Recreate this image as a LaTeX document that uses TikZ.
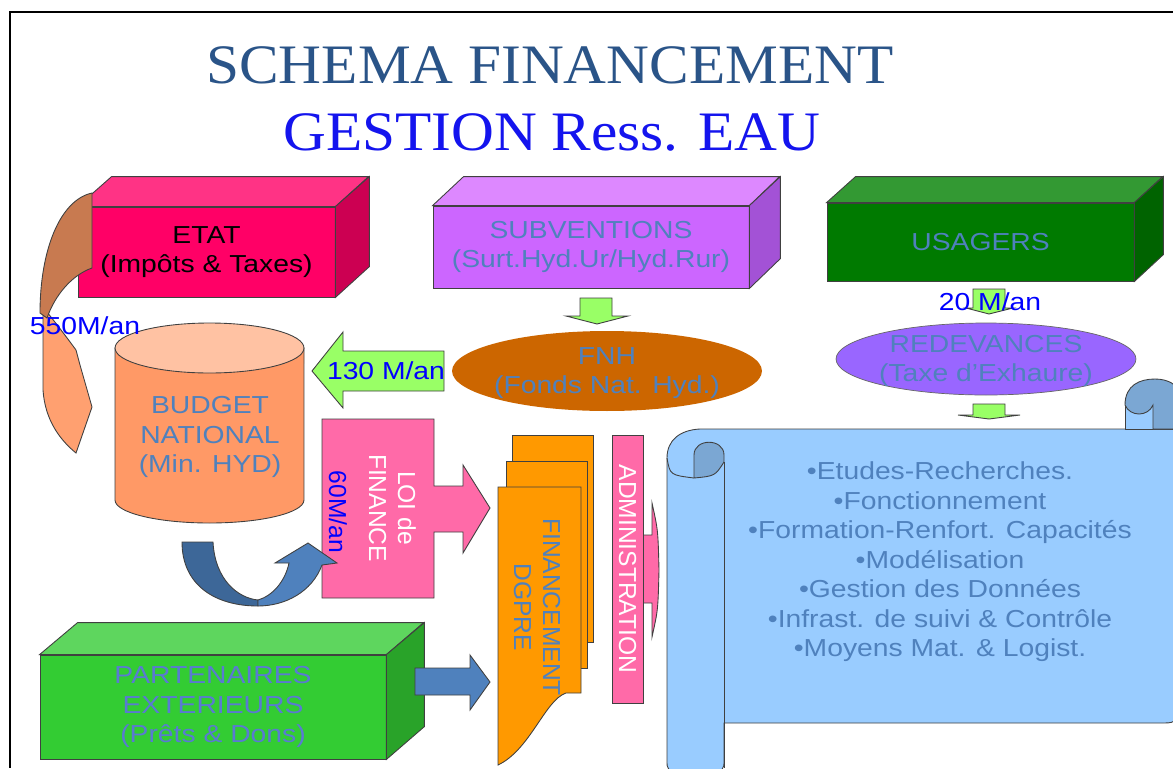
\documentclass[tikz,border=0pt]{standalone}
\usepackage{fontspec}
\setmainfont{Liberation Sans}[FakeStretch=1.15]
\newfontfamily\vertfont{Liberation Sans}
\newfontfamily\titrefont{Liberation Serif}[FakeStretch=1.065]
\usetikzlibrary{shapes}
\usetikzlibrary{backgrounds}

\definecolor{etatA}{HTML}{FF0066}
\definecolor{etatB}{HTML}{FF3385}
\definecolor{etatC}{HTML}{CC0052}
\definecolor{subvA}{HTML}{CC66FF}
\definecolor{subvB}{HTML}{DD88FF}
\definecolor{subvC}{HTML}{A352D6}
\definecolor{usagA}{HTML}{007A00}
\definecolor{usagB}{HTML}{339933}
\definecolor{usagC}{HTML}{006300}
\definecolor{partA}{HTML}{33CC33}
\definecolor{partB}{HTML}{5ED65E}
\definecolor{partC}{HTML}{29A329}
\definecolor{texteau}{HTML}{4F81BD}
\definecolor{partxt}{HTML}{5A7AD2}
\definecolor{vert}{HTML}{99FF66}
\definecolor{fnh}{HTML}{CC6600}
\definecolor{redev}{HTML}{9966FF}
\definecolor{budgA}{HTML}{FF9966}
\definecolor{budgB}{HTML}{FFC2A3}
\definecolor{rose}{HTML}{FF6AA8}
\definecolor{docs}{HTML}{FF9900}
\definecolor{rouleau}{HTML}{99CCFF}
\definecolor{rouleauB}{HTML}{7BA7D3}
\definecolor{bleuA}{HTML}{4F81BD}
\definecolor{bleuB}{HTML}{3D6798}
\definecolor{brun}{HTML}{C87A50}
\definecolor{peche}{HTML}{FFA070}
\definecolor{titreA}{HTML}{2A5488}
\definecolor{titreB}{HTML}{1414EE}

\tikzset{
  face/.style={draw=black!75, line width=0.5pt},
  boite/.style={face, inner sep=0pt, font=\fontsize{14}{16.7}\selectfont, align=center, text=texteau},
  txt/.style={font=\fontsize{14}{16.7}\selectfont, align=center, text=texteau},
  fleche/.style={draw=black!75, line width=0.5pt},
  montant/.style={font=\fontsize{14}{16}\selectfont, text=blue},
  vtxt/.style={font=\vertfont\fontsize{14}{16.5}\selectfont, align=center, rotate=-90},
}

\begin{document}
\begin{tikzpicture}[x=0.02cm,y=-0.02cm]
\useasboundingbox (0,0) rectangle (1173,768);
\fill[white] (0,0) rectangle (1173,768);
\draw[line width=1.1pt] (1173,12) -- (10,12) -- (10,768);

\node[font=\titrefont\fontsize{31.7}{36}\selectfont, text=titreA, anchor=base] (titre) at (550,83) {SCHEMA FINANCEMENT};
\node[font=\titrefont\fontsize{31.7}{36}\selectfont, text=titreB, anchor=base] (soustitre) at (552,150) {GESTION Ress. EAU};

\node[boite, fill=etatA, text=black, minimum width=5.14cm, minimum height=1.8cm] (etat) at (206.5,252) {ETAT\\(Impôts \& Taxes)};
\filldraw[face, fill=etatB] (etat.north west) -- ++(34,-30) -- ++(257,0) -- (etat.north east) -- cycle;
\filldraw[face, fill=etatC] (etat.north east) -- ++(34,-30) -- ++(0,90) -- (etat.south east) -- cycle;

\node[boite, fill=subvA, minimum width=6.32cm, minimum height=1.64cm] (subv) at (591,247) {SUBVENTIONS\\(Surt.Hyd.Ur/Hyd.Rur)};
\filldraw[face, fill=subvB] (subv.north west) -- ++(31,-29) -- ++(316,0) -- (subv.north east) -- cycle;
\filldraw[face, fill=subvC] (subv.north east) -- ++(31,-29) -- ++(0,82) -- (subv.south east) -- cycle;

\node[boite, fill=usagA, minimum width=6.14cm, minimum height=1.56cm] (usag) at (980.5,242) {USAGERS};
\filldraw[face, fill=usagB] (usag.north west) -- ++(29,-26) -- ++(307,0) -- (usag.north east) -- cycle;
\filldraw[face, fill=usagC] (usag.north east) -- ++(29,-26) -- ++(0,78) -- (usag.south east) -- cycle;

\node[boite, fill=partA, text=partxt, minimum width=6.92cm, minimum height=2.08cm] (part) at (213,707) {PARTENAIRES\\EXTERIEURS\\(Prêts \& Dons)};
\filldraw[face, fill=partB] (part.north west) -- ++(38,-32) -- ++(346,0) -- (part.north east) -- cycle;
\filldraw[face, fill=partC] (part.north east) -- ++(38,-32) -- ++(0,104) -- (part.south east) -- cycle;

\fill[fnh] (607,371) ellipse [x radius=3.1cm, y radius=0.8cm];
\node[txt] (fnhtxt) at (607,373) {FNH\\(Fonds Nat. Hyd.)};
\filldraw[fill=redev, draw=black!60] (986,359) ellipse [x radius=3cm, y radius=0.72cm];
\node[txt] (redevtxt) at (986,361) {REDEVANCES\\(Taxe d’Exhaure)};

\filldraw[face, fill=budgA] (115,348) -- (115,500) arc[start angle=180, end angle=360, x radius=1.89cm, y radius=0.46cm] -- (304,348) -- cycle;
\filldraw[face, fill=budgB] (209.5,348) ellipse [x radius=1.89cm, y radius=0.5cm];
\node[txt] (budget) at (210,437) {BUDGET\\NATIONAL\\(Min. HYD)};

\filldraw[fleche, fill=vert] (580,298) -- (612,298) -- (612,316) -- (628,316) -- (597,324) -- (566,316) -- (580,316) -- cycle;
\filldraw[fleche, fill=vert] (444,351) -- (343,351) -- (343,332) -- (312,371) -- (343,408) -- (343,391) -- (444,391) -- cycle;
\filldraw[fleche, fill=vert] (973,289) -- (1005,289) -- (1005,308) -- (1013,308) -- (989,314) -- (966,308) -- (973,308) -- cycle;
\filldraw[fleche, fill=vert] (973,404) -- (1005,404) -- (1005,415) -- (1020,415) -- (989,419) -- (958,415) -- (973,415) -- cycle;

\filldraw[fleche, fill=peche] (43,310) -- (43,390) .. controls (45,420) and (60,440) .. (76,453) -- (92,407) -- (80,365) -- (76,350) .. controls (65,335) and (55,322) .. (47,312) -- cycle;
\filldraw[fleche, fill=brun] (92,193) .. controls (60,200) and (40,250) .. (40,313) -- (47,318) .. controls (55,295) and (72,275) .. (92,268) -- cycle;

\filldraw[fleche, fill=rose] (322,419) -- (434,419) -- (434,486) -- (463,486) -- (463,465) -- (490,508) -- (463,553) -- (463,532) -- (434,532) -- (434,598) -- (322,598) -- cycle;
\node[vtxt, text=white] (loi) at (392.5,508) {LOI de\\FINANCE};

\filldraw[fleche, fill=bleuB] (182,542) -- (213,542) .. controls (215,580) and (238,598) .. (258,600) -- (258,606) .. controls (215,606) and (182,585) .. (182,542) -- cycle;
\filldraw[fleche, fill=bleuA] (258,600) .. controls (272,596) and (285,582) .. (289,563) -- (275,563) -- (308,543) -- (337,563) -- (322,565) .. controls (312,592) and (285,606) .. (258,606) -- cycle;
\node[montant, font=\vertfont\fontsize{14}{16}\selectfont, rotate=-90] (m60) at (338,512) {60M/an};

\filldraw[fleche, fill=bleuA] (415,668) -- (470,668) -- (470,655) -- (490,682) -- (470,710) -- (470,695) -- (415,695) -- cycle;

\filldraw[face, fill=docs] (512,435) rectangle (593,642);
\filldraw[face, fill=docs] (506,461) rectangle (587,668);
\filldraw[face, fill=docs] (498,487) -- (581,487) -- (581,693) -- (566,693) .. controls (545,700) and (530,750) .. (498,765) -- cycle;
\node[vtxt, text=texteau] (dgpre) at (537,607) {FINANCEMENT\\DGPRE};

\filldraw[fleche, fill=rose] (630,535) -- (652,535) -- (652,503) .. controls (658,530) .. (659,570) .. controls (658,610) .. (652,637) -- (652,603) -- (630,603) -- cycle;
\node[face, fill=rose, rotate=-90, minimum width=5.36cm, minimum height=0.62cm, inner sep=0pt, font=\vertfont\fontsize{14}{16.5}\selectfont, text=white] (admin) at (627.5,569) {ADMINISTRATION};

\filldraw[face, fill=rouleau] (724,723) -- (1160,723) .. controls (1175,723) .. (1178,710) -- (1178,429) -- (700,429) .. controls (680,430) and (667,440) .. (667,458) -- (667,760) .. controls (667,770) .. (680,772) -- (710,772) .. controls (724,770) .. (724,760) -- cycle;
\draw[face] (667,458) .. controls (670,475) .. (694,478);
\draw[face] (724,462) -- (724,768);
\filldraw[face, fill=rouleauB] (694,478) -- (694,455) .. controls (694,438) and (724,438) .. (724,455) -- (724,462) .. controls (715,476) .. (694,478) -- cycle;
\filldraw[face, fill=rouleau] (1125,400) rectangle (1178,429);
\filldraw[face, fill=rouleauB] (1125,405) .. controls (1125,385) and (1140,379) .. (1155,379) .. controls (1168,379) and (1178,385) .. (1178,392) -- (1178,429) -- (1153,429) -- (1153,405) .. controls (1148,417) and (1130,417) .. (1125,405) -- cycle;
\node[txt, font=\fontsize{14}{16.8}\selectfont] (actions) at (940,562) {•Etudes-Recherches.\\•Fonctionnement\\•Formation-Renfort. Capacités\\•Modélisation\\•Gestion des Données\\•Infrast. de suivi \& Contrôle\\•Moyens Mat. \& Logist.};

\node[montant] (m550) at (85,326) {550M/an};
\node[montant] (m130) at (386,371) {130 M/an};
\node[montant] (m20) at (990,302) {20 M/an};
\end{tikzpicture}
\end{document}
